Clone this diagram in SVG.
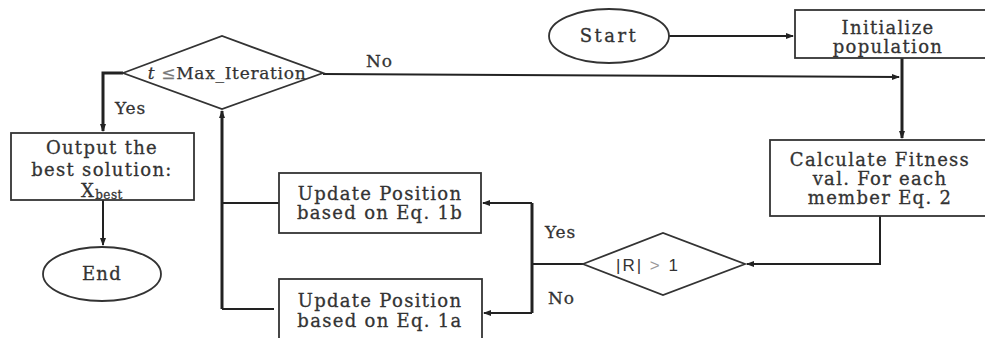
<svg xmlns="http://www.w3.org/2000/svg" width="985" height="338" viewBox="0 0 985 338">
<defs>
<style>
.shape{fill:#fff;stroke:#333;stroke-width:1.8}
.t{font-family:"DejaVu Serif","Liberation Serif",serif;font-size:18px;letter-spacing:1.3px;fill:#333;stroke:#333;stroke-width:0.3;text-anchor:middle}
.lbl{font-family:"DejaVu Serif","Liberation Serif",serif;font-size:17px;letter-spacing:0.8px;fill:#333;stroke:#333;stroke-width:0.3}
.c{fill:none;stroke:#222;stroke-width:2}
.thick{stroke-width:3}
</style>
<marker id="arr" markerWidth="8" markerHeight="8" refX="7" refY="4" orient="auto" markerUnits="userSpaceOnUse">
<path d="M0,1 L8,4 L0,7 Z" fill="#222"/>
</marker>
</defs>
<rect width="985" height="338" fill="#fff"/>
<g id="connectors">
<polyline class="c" points="669,36 793,36" marker-end="url(#arr)"/>
<polyline class="c thick" points="902,58 902,138" marker-end="url(#arr)"/>
<polyline class="c" points="323,74 899,77" marker-end="url(#arr)"/>
<polyline class="c" points="880,216 880,264 747,264" marker-end="url(#arr)"/>
<polyline class="c" points="583,264 532,264"/>
<polyline class="c thick" points="532,203 532,313"/>
<polyline class="c" points="532,203 483,203" marker-end="url(#arr)"/>
<polyline class="c" points="532,313 484,313" marker-end="url(#arr)"/>
<polyline class="c" points="279,203 222,203"/>
<polyline class="c" points="274,309 222,309"/>
<polyline class="c thick" points="222,309 222,111" marker-end="url(#arr)"/>
<polyline class="c thick" points="123,73 103,73 103,131" marker-end="url(#arr)"/>
<polyline class="c" points="103,200 103,245" marker-end="url(#arr)"/>
<text class="lbl" x="366" y="67">No</text>
<text class="lbl" x="115" y="114">Yes</text>
<text class="lbl" x="545" y="238">Yes</text>
<text class="lbl" x="548" y="304">No</text>
</g>
<g id="start">
<ellipse class="shape" cx="609" cy="36" rx="60" ry="27"/>
<text class="t" x="609" y="42" style="letter-spacing:2.5px">Start</text>
</g>
<g id="init">
<rect class="shape" x="795" y="10" width="200" height="48"/>
<text class="t" x="888" y="34">Initialize</text>
<text class="t" x="888" y="53">population</text>
</g>
<g id="calc">
<rect class="shape" x="770" y="140" width="225" height="76"/>
<text class="t" x="880" y="166">Calculate Fitness</text>
<text class="t" x="880" y="185">val. For each</text>
<text class="t" x="880" y="204">member Eq. 2</text>
</g>
<g id="rcheck">
<polygon class="shape" points="583,264 663,233 745,264 663,295"/>
<text x="648" y="271" font-family="Liberation Sans, Arial, sans-serif" font-size="17" letter-spacing="2" fill="#333" text-anchor="middle">|R| <tspan fill="#999">&gt;</tspan> 1</text>
</g>
<g id="upd1b">
<rect class="shape" x="279" y="173" width="202" height="60"/>
<text class="t" x="380" y="200">Update Position</text>
<text class="t" x="380" y="219">based on Eq. 1b</text>
</g>
<g id="upd1a">
<rect class="shape" x="279" y="279" width="203" height="70"/>
<text class="t" x="380" y="307">Update Position</text>
<text class="t" x="380" y="327">based on Eq. 1a</text>
</g>
<g id="iter">
<polygon class="shape" points="123,73 222,36 323,73 222,109"/>
<text x="227" y="79" font-family="DejaVu Serif, serif" font-size="17" letter-spacing="0.7" fill="#333" stroke="#333" stroke-width="0.25" text-anchor="middle"><tspan font-style="italic">t</tspan> <tspan fill="#777" stroke="#777">≤</tspan>Max_Iteration</text>
</g>
<g id="output">
<rect class="shape" x="11" y="133" width="183" height="67"/>
<text class="t" x="102" y="154">Output the</text>
<text class="t" x="102" y="176">best solution:</text>
<text class="t" x="102" y="197">X<tspan font-size="12" dy="2" letter-spacing="0.5">best</tspan></text>
</g>
<g id="end">
<ellipse class="shape" cx="102" cy="274" rx="59" ry="27"/>
<text class="t" x="102" y="280">End</text>
</g>
</svg>
